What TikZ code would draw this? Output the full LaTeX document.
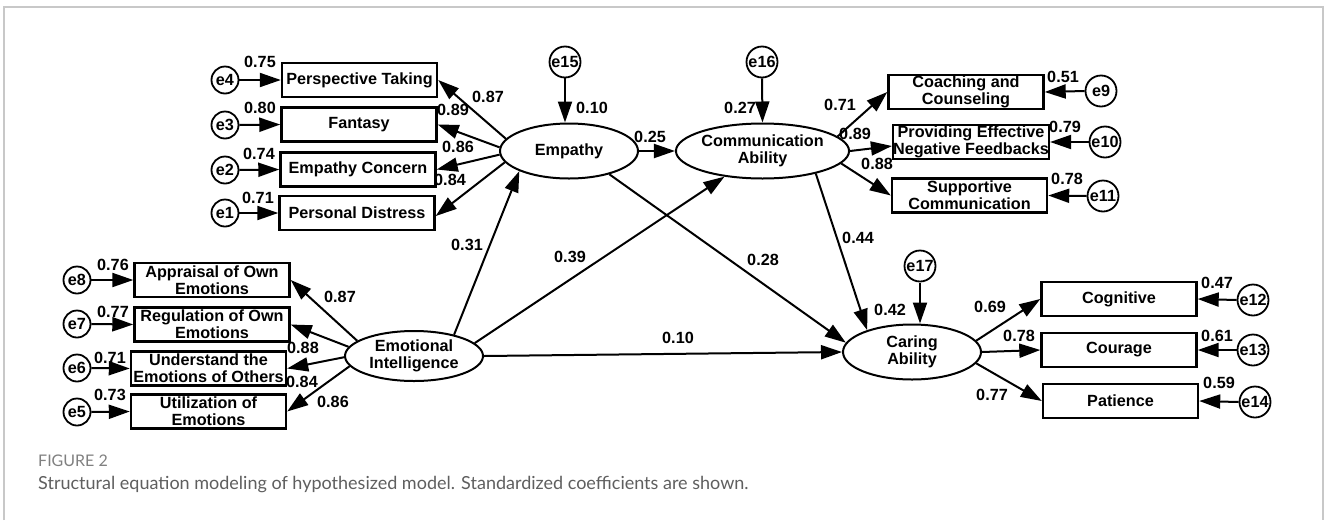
\documentclass[tikz,border=0pt]{standalone}
\usepackage{fontspec}
\setmainfont{Liberation Sans}
\newfontfamily\capfont{Lato}
\usetikzlibrary{arrows.meta,shapes.geometric,calc}
\definecolor{framecol}{RGB}{200,200,200}
\definecolor{figcol}{RGB}{128,128,128}
\definecolor{capcol}{RGB}{95,95,95}
\begin{document}
\begin{tikzpicture}[x=1pt,y=-1pt,
  every node/.style={font=\fontsize{16.2}{17}\selectfont\bfseries},
  ind/.style={draw,line width=2.4pt,minimum width=155pt,minimum height=34pt,inner sep=0pt,align=center},
  lat/.style={ellipse,draw,line width=2pt,minimum width=138pt,minimum height=55pt,inner sep=0pt,align=center},
  err/.style={circle,draw,line width=1.8pt,minimum size=27pt,inner sep=0pt},
  errb/.style={err,minimum size=31pt},
  lbl/.style={inner sep=0pt},
  conn/.style={line width=2pt,-{Triangle[length=21pt,width=14pt]}},
]
\useasboundingbox (0,0) rectangle (1328,520);
\fill[white] (0,0) rectangle (1328,520);
\draw[framecol,line width=1.5pt] (4,520) -- (4,7) -- (1323,7) -- (1323,520);

% latent variables
\node[lat] (Emp) at (569,151) {Empathy};
\node[lat] (Comm) at (762.5,151) {Communication\\Ability};
\node[lat,minimum height=50pt] (EI) at (414,356) {Emotional\\Intelligence};
\node[lat] (Car) at (912,352) {Caring\\Ability};

% indicators
\node[ind] (PT) at (359.5,80) {Perspective Taking};
\node[ind] (Fa) at (359,124.5) {Fantasy};
\node[ind] (EC) at (358,169.5) {Empathy Concern};
\node[ind] (PD) at (357,213) {Personal Distress};
\node[ind] (Coach) at (966,92) {Coaching and\\Counseling};
\node[ind] (Prov) at (971,142) {Providing Effective\\Negative Feedbacks};
\node[ind] (Supp) at (969.5,195.5) {Supportive\\Communication};
\node[ind] (App) at (212,280) {Appraisal of Own\\Emotions};
\node[ind] (Reg) at (212,324.5) {Regulation of Own\\Emotions};
\node[ind] (Und) at (208.5,368.5) {Understand the\\Emotions of Others};
\node[ind] (Util) at (208.5,411.5) {Utilization of\\Emotions};
\node[ind] (Cog) at (1119,299) {Cognitive};
\node[ind] (Cour) at (1119,350) {Courage};
\node[ind] (Pat) at (1120.5,401) {Patience};

% errors
\node[err] (e4) at (225,80) {e4};
\node[err] (e3) at (225,125) {e3};
\node[err] (e2) at (225,170) {e2};
\node[err] (e1) at (225,213) {e1};
\node[err] (e8) at (77,280) {e8};
\node[err] (e7) at (77,324) {e7};
\node[err] (e6) at (77,368) {e6};
\node[err] (e5) at (77,412) {e5};
\node[errb] (e15) at (565,62) {e15};
\node[errb] (e16) at (762,62) {e16};
\node[errb] (e17) at (920,266) {e17};
\node[errb] (e9) at (1101,91) {e9};
\node[errb] (e10) at (1105,142) {e10};
\node[errb] (e11) at (1103,196) {e11};
\node[errb] (e12) at (1253,300) {e12};
\node[errb] (e13) at (1253,350) {e13};
\node[errb] (e14) at (1255,402) {e14};

% error arrows
\foreach \e/\b in {e4/PT,e3/Fa,e2/EC,e1/PD,e8/App,e7/Reg,e6/Und,e5/Util}
  \draw[conn] (\e.east) -- (\b.west);
\foreach \e/\b in {e9/Coach,e10/Prov,e11/Supp,e12/Cog,e13/Cour,e14/Pat}
  \draw[conn] (\e.west) -- (\b.east);
\draw[conn] (e15.south) -- (e15.south |- Emp.north);
\draw[conn] (e16.south) -- (Comm.north);
\draw[conn] ([yshift=-0.5pt]e17.south) -- (e17.south |- Car.north);

% measurement paths
\draw[conn] (Emp.169) -- (PT.east);
\draw[conn] (Emp.177) -- (Fa.east);
\draw[conn] (Emp.183) -- (EC.east);
\draw[conn] (Emp.190) -- ([yshift=-3pt]PD.east);
\draw[conn] (EI.165) -- (App.east);
\draw[conn] (EI.172) -- (Reg.east);
\draw[conn] (EI.181) -- (Und.east);
\draw[conn] (EI.189) -- (Util.east);
\draw[conn] (Comm.11) -- (Coach.west);
\draw[conn] (Comm.east) -- ([yshift=-4pt]Prov.west);
\draw[conn] (Comm.351) -- (Supp.west);
\draw[conn] (Car.10) -- (Cog.west);
\draw[conn] (Car.east) -- (Cour.west);
\draw[conn] (Car.350) -- (Pat.west);

% structural paths
\draw[conn] (EI.28) -- (Emp.202);
\draw[conn] (EI.12) -- (Comm.214);
\draw[conn] (EI.east) -- (Car.west);
\draw[conn] (Emp.330) -- (Car.172);
\draw[conn] (Comm.337) -- (Car.154);
\draw[conn] (Emp.east) -- (Comm.west);

% coefficients
\node[lbl] (l1) at (260,62) {0.75};
\node[lbl] (l2) at (260,108) {0.80};
\node[lbl] (l3) at (259,154) {0.74};
\node[lbl] (l4) at (258,198) {0.71};
\node[lbl] (l5) at (488,97) {0.87};
\node[lbl] (l6) at (453,110) {0.89};
\node[lbl] (l7) at (458,147) {0.86};
\node[lbl] (l8) at (450,180) {0.84};
\node[lbl] (l9) at (592,108) {0.10};
\node[lbl] (l10) at (650,137) {0.25};
\node[lbl] (l11) at (740,108) {0.27};
\node[lbl] (l12) at (840,105) {0.71};
\node[lbl] (l13) at (855,134) {0.89};
\node[lbl] (l14) at (877,164) {0.88};
\node[lbl] (l15) at (1063,77) {0.51};
\node[lbl] (l16) at (1065,127) {0.79};
\node[lbl] (l17) at (1067,179) {0.78};
\node[lbl] (l18) at (467,245) {0.31};
\node[lbl] (l19) at (570,257) {0.39};
\node[lbl] (l20) at (763,260) {0.28};
\node[lbl] (l21) at (858,238) {0.44};
\node[lbl] (l22) at (678,338) {0.10};
\node[lbl] (l23) at (890,310) {0.42};
\node[lbl] (l24) at (113,265) {0.76};
\node[lbl] (l25) at (113,312) {0.77};
\node[lbl] (l26) at (110,358) {0.71};
\node[lbl] (l27) at (110,395) {0.73};
\node[lbl] (l28) at (340,297) {0.87};
\node[lbl] (l29) at (303,348) {0.88};
\node[lbl] (l30) at (302,382) {0.84};
\node[lbl] (l31) at (333,402) {0.86};
\node[lbl] (l32) at (990,307) {0.69};
\node[lbl] (l33) at (1019,336) {0.78};
\node[lbl] (l34) at (992,395) {0.77};
\node[lbl] (l35) at (1217,283) {0.47};
\node[lbl] (l36) at (1217,336) {0.61};
\node[lbl] (l37) at (1219,383) {0.59};

% caption
\node[lbl,anchor=base west,text=figcol,font=\capfont\fontsize{16}{18}\selectfont] (fig) at (38,466) {FIGURE 2};
\node[lbl,anchor=base west,text=capcol,font=\capfont\fontsize{18}{20}\selectfont] (cap) at (38,489) {Structural equation modeling of hypothesized model. Standardized coefficients are shown.};
\end{tikzpicture}
\end{document}
